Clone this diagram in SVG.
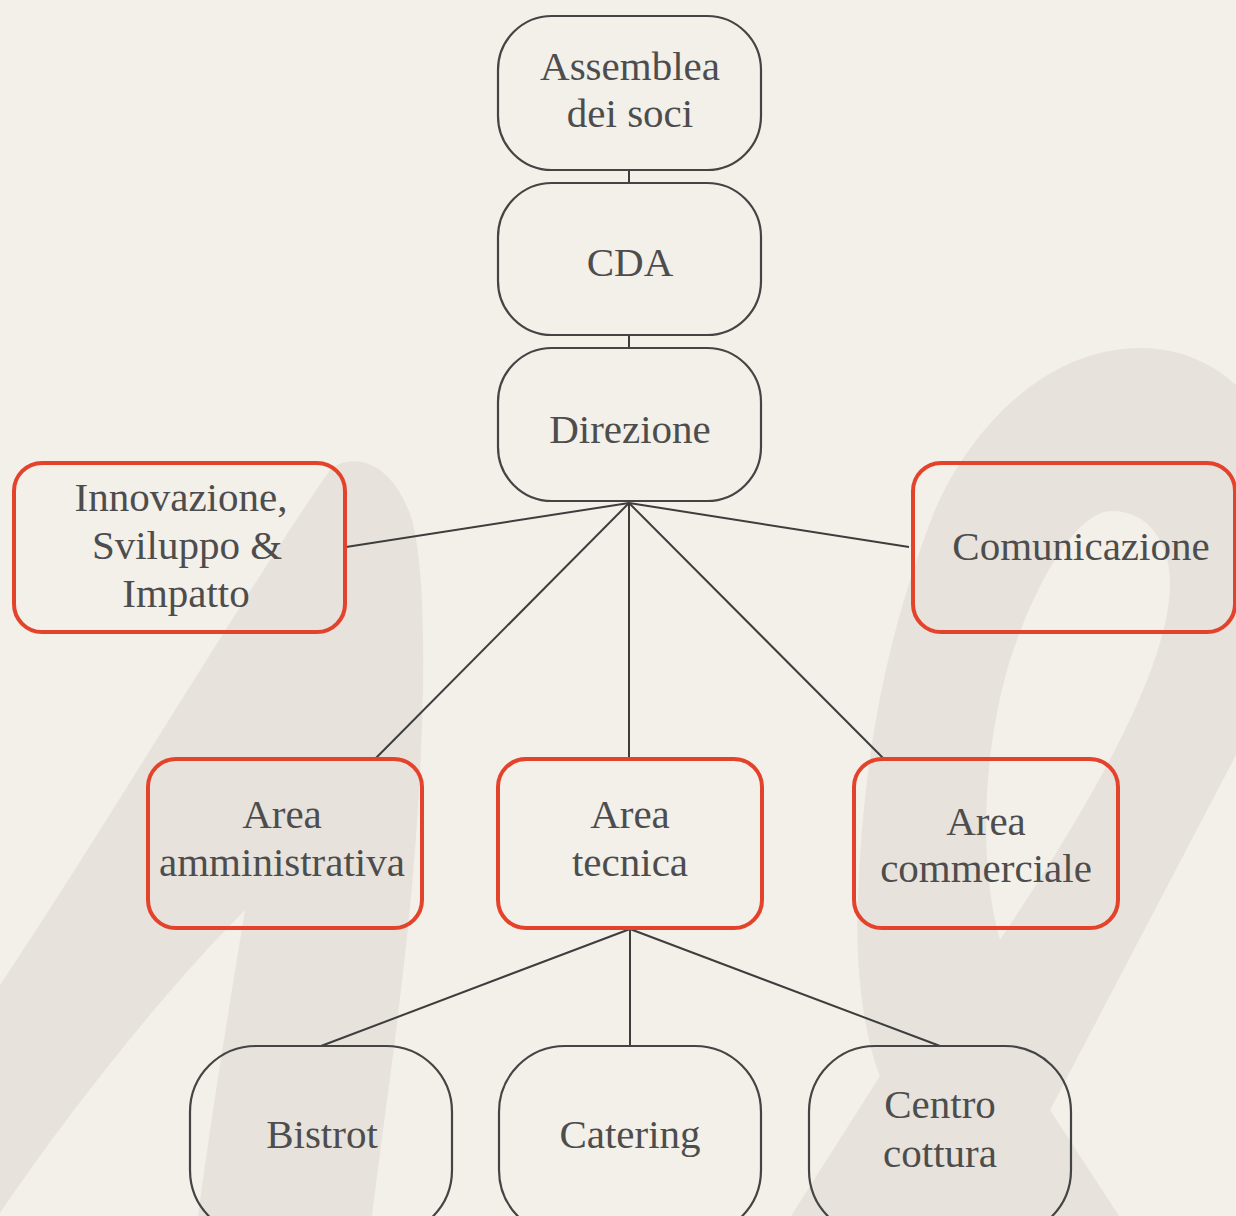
<svg xmlns="http://www.w3.org/2000/svg" width="1236" height="1216" viewBox="0 0 1236 1216">
<style>
.bg{fill:#f3efe9}
.deco{fill:#e7e2dc}
.gn{fill:none;stroke:#444;stroke-width:2.2}
.rn{fill:none;stroke:#e4432b;stroke-width:4}
.t{font-family:"Liberation Serif","Times New Roman",serif;font-size:41px;fill:#4d4d4d;text-anchor:middle}
.c line{stroke:#3d3d3d;stroke-width:2}
</style>
<rect class="bg" x="0" y="0" width="1236" height="1216"/>
<g id="decor">
<path class="deco" d="M 0 985 C 110 820, 240 600, 330 470 C 345 455, 390 452, 412 520 C 428 580, 425 720, 415 850 C 405 980, 385 1110, 372 1216 L 198 1216 C 212 1110, 232 990, 245 910 C 165 990, 70 1110, 0 1213 Z"/>
<path class="deco" fill-rule="evenodd" d="M 791 1216 L 880 1076 C 862 1030, 855 960, 858 900 C 862 780, 880 650, 935 510 C 975 420, 1050 350, 1137 348 C 1180 347, 1215 365, 1236 385 L 1236 755 L 1050 1110 L 1119 1216 Z M 1000 940 C 980 870, 980 760, 1010 660 C 1040 570, 1080 511, 1112 511 C 1150 511, 1172 545, 1170 590 C 1165 680, 1080 820, 1000 940 Z"/>
</g>
<g id="connectors" class="c">
<line x1="629" y1="170" x2="629" y2="183"/>
<line x1="629" y1="335" x2="629" y2="348"/>
<line x1="629" y1="503" x2="346" y2="547"/>
<line x1="629" y1="503" x2="909" y2="547"/>
<line x1="629" y1="503" x2="376" y2="758"/>
<line x1="629" y1="503" x2="629" y2="758"/>
<line x1="629" y1="503" x2="883" y2="758"/>
<line x1="630" y1="929" x2="321" y2="1046"/>
<line x1="630" y1="929" x2="630" y2="1046"/>
<line x1="630" y1="929" x2="940" y2="1046"/>
</g>
<g id="assemblea"><rect class="gn" x="498" y="16" width="263" height="154" rx="54"/><text class="t" x="630" y="80">Assemblea</text><text class="t" x="630" y="127">dei soci</text></g>
<g id="cda"><rect class="gn" x="498" y="183" width="263" height="152" rx="54"/><text class="t" x="630" y="276">CDA</text></g>
<g id="direzione"><rect class="gn" x="498" y="348" width="263" height="153" rx="54"/><text class="t" x="630" y="443">Direzione</text></g>
<g id="innovazione"><rect class="rn" x="14" y="463" width="331" height="169" rx="28"/><text class="t" x="181" y="511">Innovazione,</text><text class="t" x="187" y="559">Sviluppo &amp;</text><text class="t" x="186" y="607">Impatto</text></g>
<g id="comunicazione"><rect class="rn" x="913" y="463" width="322" height="169" rx="28"/><text class="t" x="1081" y="560">Comunicazione</text></g>
<g id="area-amministrativa"><rect class="rn" x="148" y="759" width="274" height="169" rx="28"/><text class="t" x="282" y="828">Area</text><text class="t" x="282" y="876">amministrativa</text></g>
<g id="area-tecnica"><rect class="rn" x="498" y="759" width="264" height="169" rx="28"/><text class="t" x="630" y="828">Area</text><text class="t" x="630" y="876">tecnica</text></g>
<g id="area-commerciale"><rect class="rn" x="854" y="759" width="264" height="169" rx="28"/><text class="t" x="986" y="835">Area</text><text class="t" x="986" y="882">commerciale</text></g>
<g id="bistrot"><rect class="gn" x="190" y="1046" width="262" height="190" rx="66"/><text class="t" x="322" y="1148">Bistrot</text></g>
<g id="catering"><rect class="gn" x="499" y="1046" width="262" height="190" rx="66"/><text class="t" x="630" y="1148">Catering</text></g>
<g id="centro-cottura"><rect class="gn" x="809" y="1046" width="262" height="190" rx="66"/><text class="t" x="940" y="1118">Centro</text><text class="t" x="940" y="1167">cottura</text></g>
</svg>
